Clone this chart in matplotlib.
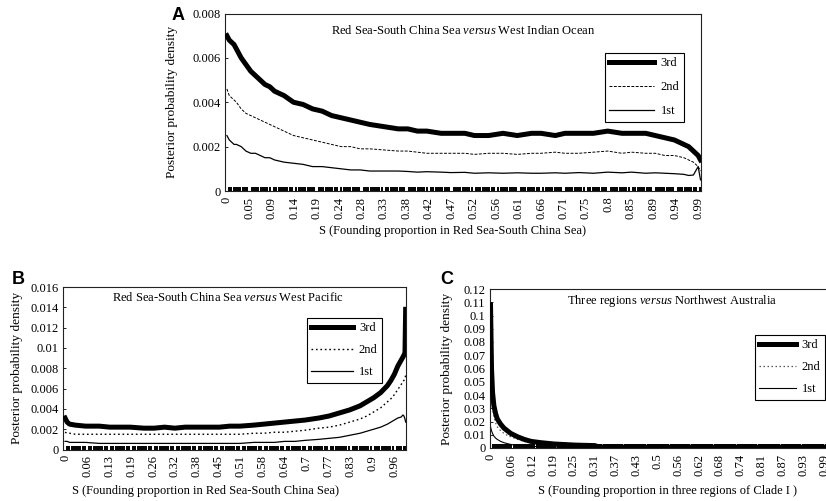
"""Posterior probability density of S, three panels (A, B, C)"""
import matplotlib
matplotlib.use('Agg')
import matplotlib.pyplot as plt
import numpy as np

plt.rcParams['font.family'] = ['Liberation Serif', 'DejaVu Serif']
plt.rcParams['mathtext.fontset'] = 'custom'
plt.rcParams['mathtext.rm'] = 'Liberation Serif'
plt.rcParams['mathtext.it'] = 'Liberation Serif:italic'
plt.rcParams['font.size'] = 9

# ================================================================
# data
# ================================================================
# --- A: Red Sea-South China Sea versus West Indian Ocean ---
A_s = [0, 0.005, 0.01, 0.015, 0.02, 0.03, 0.04, 0.05, 0.06, 0.07,
       0.08, 0.09, 0.10, 0.12, 0.14, 0.16, 0.18, 0.20, 0.22, 0.24,
       0.26, 0.28, 0.30, 0.33, 0.36, 0.38, 0.40, 0.42, 0.45, 0.47,
       0.50, 0.52, 0.55, 0.58, 0.61, 0.64, 0.66, 0.69, 0.71, 0.74,
       0.77, 0.80, 0.83, 0.85, 0.88, 0.90, 0.92, 0.94, 0.96, 0.97,
       0.98, 0.99, 0.995]
A_3rd = [0.0070, 0.0068, 0.0067, 0.0066, 0.0064, 0.0060, 0.0057, 0.0054, 0.0052, 0.0050,
         0.0048, 0.0047, 0.0045, 0.0043, 0.0040, 0.0039, 0.0037, 0.0036, 0.0034, 0.0033,
         0.0032, 0.0031, 0.0030, 0.0029, 0.0028, 0.0028, 0.0027, 0.0027, 0.0026, 0.0026,
         0.0026, 0.0025, 0.0025, 0.0026, 0.0025, 0.0026, 0.0026, 0.0025, 0.0026, 0.0026,
         0.0026, 0.0027, 0.0026, 0.0026, 0.0026, 0.0025, 0.0024, 0.0023, 0.0021, 0.0020,
         0.0018, 0.0016, 0.0014]
A_2nd = [0.0046, 0.0043, 0.0042, 0.0041, 0.0040, 0.0037, 0.0035, 0.0034, 0.0033, 0.0032,
         0.0031, 0.0030, 0.0029, 0.0027, 0.0025, 0.0024, 0.0023, 0.0022, 0.0021, 0.0020,
         0.0020, 0.0019, 0.0019, 0.00185, 0.0018, 0.0018, 0.00175, 0.0017, 0.0017, 0.0017,
         0.0017, 0.00165, 0.0017, 0.0017, 0.00165, 0.0017, 0.0017, 0.00175, 0.0017, 0.0017,
         0.00175, 0.0018, 0.0017, 0.00175, 0.0017, 0.0017, 0.0016, 0.0016, 0.0015, 0.0014,
         0.0013, 0.0011, 0.0009]
A_1st = [0.0025, 0.0023, 0.0022, 0.0021, 0.0021, 0.0020, 0.0018, 0.0017, 0.0017, 0.0016,
         0.0015, 0.0015, 0.0014, 0.0013, 0.00125, 0.0012, 0.0011, 0.0011, 0.00105, 0.0010,
         0.00095, 0.00095, 0.0009, 0.0009, 0.0009, 0.00088, 0.00085, 0.00087, 0.00085, 0.00083,
         0.00084, 0.0008, 0.00082, 0.0008, 0.00082, 0.0008, 0.0008, 0.00082, 0.0008, 0.00083,
         0.0008, 0.00085, 0.00082, 0.00085, 0.0008, 0.00082, 0.0008, 0.00078, 0.00075, 0.0007,
         0.00072, 0.0011, 0.0005]
A_xlabels = ['0', '0.05', '0.09', '0.14', '0.19', '0.24', '0.28', '0.33', '0.38', '0.42',
             '0.47', '0.52', '0.56', '0.61', '0.66', '0.71', '0.75', '0.8', '0.85', '0.89',
             '0.94', '0.99']
A_yticks = [0, 0.002, 0.004, 0.006, 0.008]
A_ylabels = ['0', '0.002', '0.004', '0.006', '0.008']

# --- B: Red Sea-South China Sea versus West Pacific ---
B_s = [0, 0.006, 0.013, 0.03, 0.06, 0.10, 0.13, 0.16, 0.19, 0.23,
       0.26, 0.29, 0.32, 0.35, 0.38, 0.42, 0.45, 0.48, 0.51, 0.55,
       0.58, 0.61, 0.64, 0.67, 0.70, 0.74, 0.77, 0.80, 0.83, 0.86,
       0.88, 0.90, 0.92, 0.94, 0.95, 0.96, 0.97, 0.98, 0.985, 0.988,
       0.991, 0.993]
B_3rd = [0.0031, 0.0027, 0.0025, 0.0024, 0.0023, 0.0023, 0.0022, 0.0022, 0.0022, 0.0021,
         0.0021, 0.0022, 0.0021, 0.0022, 0.0022, 0.0022, 0.0022, 0.0023, 0.0023, 0.0024,
         0.0025, 0.0026, 0.0027, 0.0028, 0.0029, 0.0031, 0.0033, 0.0036, 0.0039, 0.0043,
         0.0047, 0.0051, 0.0056, 0.0063, 0.0068, 0.0074, 0.0082, 0.0088, 0.0091, 0.0093,
         0.0095, 0.0138]
B_2nd = [0.0017, 0.0016, 0.0016, 0.0015, 0.0015, 0.0015, 0.0015, 0.0015, 0.0015, 0.0015,
         0.0015, 0.0015, 0.0015, 0.0015, 0.0015, 0.0015, 0.0015, 0.0015, 0.0015, 0.0016,
         0.0016, 0.0017, 0.0017, 0.0018, 0.0019, 0.0021, 0.0022, 0.0024, 0.0027, 0.0030,
         0.0033, 0.0037, 0.0041, 0.0047, 0.0050, 0.0054, 0.0059, 0.0064, 0.0067, 0.0068,
         0.0070, 0.0073]
B_1st = [0.0008, 0.0008, 0.0007, 0.0007, 0.0007, 0.0006, 0.0006, 0.0006, 0.0006, 0.0006,
         0.0006, 0.0006, 0.0006, 0.0006, 0.0006, 0.0006, 0.0006, 0.0006, 0.0006, 0.0007,
         0.0007, 0.0007, 0.0008, 0.0008, 0.0009, 0.0010, 0.0011, 0.0012, 0.0014, 0.0016,
         0.0018, 0.0020, 0.0022, 0.0025, 0.0027, 0.0029, 0.0031, 0.0032, 0.0034, 0.0033,
         0.0030, 0.0027]
B_xlabels = ['0', '0.06', '0.13', '0.19', '0.26', '0.32', '0.38', '0.45', '0.51', '0.58',
             '0.64', '0.7', '0.77', '0.83', '0.9', '0.96']
B_yticks = [0, 0.002, 0.004, 0.006, 0.008, 0.010, 0.012, 0.014, 0.016]
B_ylabels = ['0', '0.002', '0.004', '0.006', '0.008', '0.01', '0.012', '0.014', '0.016']

# --- C: Three regions versus Northwest Australia ---
C_s = [0, 0.003, 0.006, 0.01, 0.015, 0.02, 0.03, 0.04, 0.05, 0.06,
       0.08, 0.10, 0.12, 0.15, 0.19, 0.22, 0.25, 0.28, 0.31, 0.32,
       0.37, 0.43, 0.50, 0.56, 0.62, 0.68, 0.74, 0.81, 0.87, 0.93,
       0.99, 1.0]
C_3rd = [0.108, 0.060, 0.042, 0.032, 0.026, 0.022, 0.018, 0.015, 0.013, 0.011,
         0.0085, 0.0065, 0.0050, 0.0040, 0.0030, 0.0026, 0.0022, 0.0020, 0.0018, 0.0008,
         0.0007, 0.0007, 0.0006, 0.0007, 0.0007, 0.0006, 0.0007, 0.0006, 0.0007, 0.0006,
         0.0006, 0.0006]
C_2nd = [0.070, 0.040, 0.030, 0.024, 0.019, 0.016, 0.013, 0.011, 0.0095, 0.0085,
         0.0065, 0.0050, 0.0040, 0.0032, 0.0025, 0.0021, 0.0018, 0.0016, 0.0014, 0.0012,
         0.0010, 0.0009, 0.0009, 0.0010, 0.0010, 0.0010, 0.0010, 0.0010, 0.0010, 0.0009,
         0.0008, 0.0008]
C_1st = [0.016, 0.013, 0.011, 0.009, 0.0075, 0.0065, 0.005, 0.004, 0.0033, 0.0027,
         0.0020, 0.0015, 0.0012, 0.0009, 0.0007, 0.0006, 0.0005, 0.0005, 0.0005, 0.0004,
         0.0004, 0.0004, 0.0004, 0.0004, 0.0004, 0.0004, 0.0004, 0.0004, 0.0004, 0.0004,
         0.0004, 0.0004]
C_xlabels = ['0', '0.06', '0.12', '0.19', '0.25', '0.31', '0.37', '0.43', '0.5', '0.56',
             '0.62', '0.68', '0.74', '0.81', '0.87', '0.93', '0.99']
C_yticks = [0, 0.01, 0.02, 0.03, 0.04, 0.05, 0.06, 0.07, 0.08, 0.09, 0.10, 0.11, 0.12]
C_ylabels = ['0', '0.01', '0.02', '0.03', '0.04', '0.05', '0.06', '0.07', '0.08', '0.09',
             '0.1', '0.11', '0.12']

# ================================================================
# figure, axes placed in pixel coordinates
# ================================================================
W, H = 826, 501
fig = plt.figure(figsize=(W / 100, H / 100), dpi=100)


def px_axes(l, t, r, b):
    return fig.add_axes([l / W, 1 - b / H, (r - l) / W, (b - t) / H])


def style(ax, xlim, ylim, xt, xlabs, cat_step, yt, ylabs):
    ax.set_xlim(*xlim)
    ax.set_ylim(*ylim)
    ax.set_xticks(xt, xlabs, rotation=90)
    # dense category ticks along the bottom (look like a dashed band)
    ax.set_xticks(np.arange(0, xlim[1], cat_step), minor=True)
    ax.set_yticks(yt, ylabs)
    ax.tick_params(axis='x', which='major', length=0, pad=4, labelsize=9)
    ax.tick_params(axis='x', which='minor', direction='in', length=3,
                   width=1.4, color='black')
    ax.tick_params(axis='y', direction='in', length=2, width=0.6, pad=3,
                   labelsize=9)
    for sp in ax.spines.values():
        sp.set_linewidth(0.8)
        sp.set_color('#222')


def legend(ax, x, y, hl, ls):
    leg = ax.legend(loc='upper left', bbox_to_anchor=(x / W, 1 - y / H),
                    bbox_transform=fig.transFigure, fancybox=False,
                    edgecolor='black', framealpha=1, borderaxespad=0,
                    handlelength=hl, labelspacing=ls, borderpad=0.35,
                    handletextpad=0.5, fontsize=9)
    leg.get_frame().set_linewidth(0.8)


# --- A ---
axA = px_axes(225, 13.5, 701, 191)
axA.plot(A_s, A_3rd, color='black', lw=3.6, label='3rd', zorder=3)
axA.plot(A_s, A_2nd, color='black', lw=0.7, ls=(0, (3, 1.5)), label='2nd')
axA.plot(A_s, A_1st, color='black', lw=0.9, label='1st')
style(axA, (-0.004, 0.996), (0, 0.008), np.arange(22) * 0.99 / 21, A_xlabels,
      0.99 / 210, A_yticks, A_ylabels)
axA.text(0.5, 0.907, r'Red Sea-South China Sea $\mathit{versus}$ West Indian Ocean',
         transform=axA.transAxes, ha='center', va='center', fontsize=9)
axA.set_xlabel('S (Founding proportion in Red Sea-South China Sea)', fontsize=9)
axA.xaxis.set_label_coords(0.477, -0.19)
axA.set_ylabel('Posterior probability density', fontsize=9.6)
axA.yaxis.set_label_coords(-0.099, 0.5)
legend(axA, 605, 53, 3.6, 0.95)

# --- B ---
axB = px_axes(63, 287, 406, 449.5)
axB.plot(B_s, B_3rd, color='black', lw=3.6, label='3rd', zorder=3)
axB.plot(B_s, B_2nd, color='black', lw=1.0, ls=(0, (1.2, 2)), label='2nd')
axB.plot(B_s, B_1st, color='black', lw=0.9, label='1st')
style(axB, (-0.006, 0.994), (0, 0.016), np.arange(16) * 10 / 156, B_xlabels,
      1 / 156, B_yticks, B_ylabels)
axB.text(0.48, 0.938, r'Red Sea-South China Sea $\mathit{versus}$ West Pacific',
         transform=axB.transAxes, ha='center', va='center', fontsize=9)
axB.set_xlabel('S (Founding proportion in Red Sea-South China Sea)', fontsize=9)
axB.xaxis.set_label_coords(0.416, -0.22)
axB.set_ylabel('Posterior probability density', fontsize=9.6)
axB.yaxis.set_label_coords(-0.118, 0.5)
legend(axB, 307, 318, 3.3, 0.8)

# --- C (runs past the right edge of the figure, as in the original) ---
axC = px_axes(489.5, 289, 831, 448)
axC.plot(C_s, C_3rd, color='black', lw=3.6, label='3rd', zorder=3)
axC.plot(C_s, C_2nd, color='#555', lw=0.9, ls=(0, (1.2, 2)), label='2nd')
axC.plot(C_s, C_1st, color='black', lw=0.8, label='1st')
style(axC, (-0.003, 1.01), (0, 0.12), np.arange(17) * 0.99 / 16, C_xlabels,
      1 / 161, C_yticks, C_ylabels)
axC.text(0.535, 0.926, r'Three regions $\mathit{versus}$ Northwest Australia',
         transform=axC.transAxes, ha='center', va='center', fontsize=9)
axC.set_xlabel('S (Founding proportion in three regions of Clade I )', fontsize=9)
axC.xaxis.set_label_coords(0.52, -0.233)
axC.set_ylabel('Posterior probability density', fontsize=9.6)
axC.yaxis.set_label_coords(-0.107, 0.5)
legend(axC, 755, 335, 2.9, 0.8)

# panel letters
for letter, x, y in [('A', 178, 16), ('B', 18, 279), ('C', 447, 279)]:
    fig.text(x / W, 1 - y / H, letter, ha='center', va='center',
             fontsize=13, fontweight='bold', family='Liberation Sans')

fig.savefig('out.png', dpi=100)
print('Saved: out.png')
